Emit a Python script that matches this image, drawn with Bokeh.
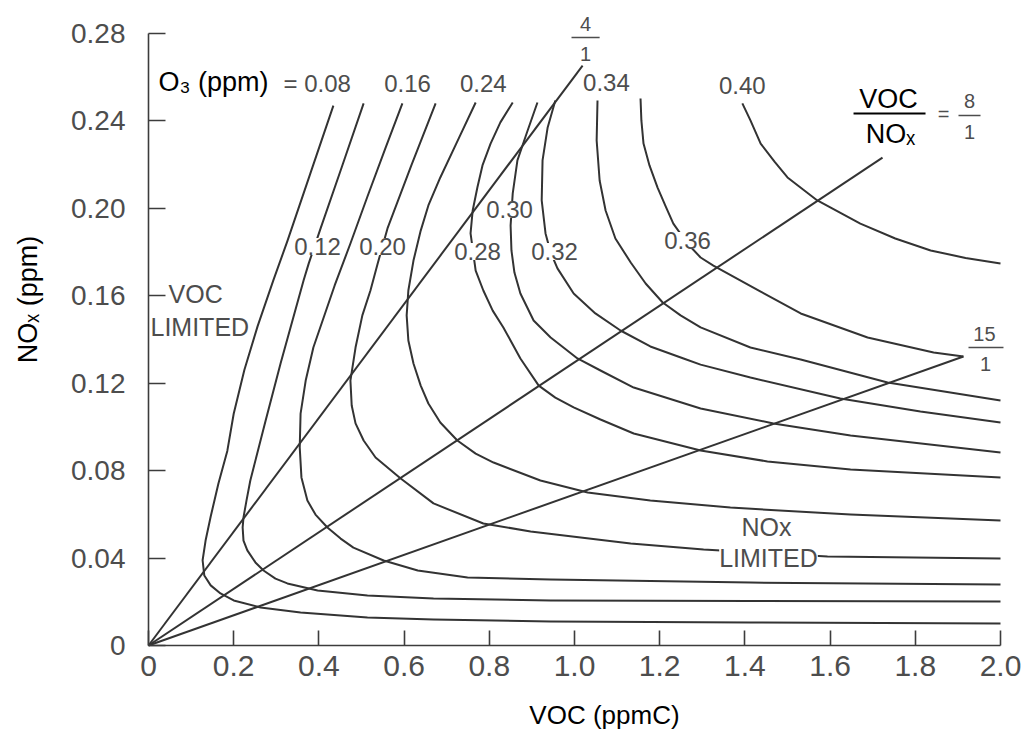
import math
from bokeh.plotting import figure
from bokeh.models import Range1d, FixedTicker, Label, Arrow
from bokeh.embed import file_html
from bokeh.resources import INLINE

# ---------------- data ----------------
x_ticks = [0, 0.2, 0.4, 0.6, 0.8, 1.0, 1.2, 1.4, 1.6, 1.8, 2.0]
x_tick_labels = ["0", "0.2", "0.4", "0.6", "0.8", "1.0", "1.2", "1.4", "1.6", "1.8", "2.0"]
y_ticks = [0, 0.04, 0.08, 0.12, 0.16, 0.20, 0.24, 0.28]
y_tick_labels = ["0", "0.04", "0.08", "0.12", "0.16", "0.20", "0.24", "0.28"]

# ozone isopleths: O3 (ppm) level -> VOC (ppmC) / NOx (ppm) points
voc_008 = [0.434, 0.380, 0.326, 0.293, 0.256, 0.225, 0.200, 0.185, 0.164, 0.146, 0.134, 0.127,
           0.131, 0.146, 0.169, 0.200, 0.263, 0.357, 0.514, 0.669, 0.944, 1.413, 2.0]
nox_008 = [0.247, 0.216, 0.185, 0.167, 0.146, 0.126, 0.106, 0.089, 0.074, 0.059, 0.048, 0.039,
           0.032, 0.0275, 0.0238, 0.0206, 0.0174, 0.0151, 0.0128, 0.0119, 0.0110, 0.0105, 0.0101]

voc_012 = [0.505, 0.455, 0.404, 0.376, 0.364, 0.310, 0.275, 0.239, 0.230, 0.223, 0.221, 0.223,
           0.232, 0.251, 0.270, 0.298, 0.326, 0.397, 0.514, 0.669, 0.944, 1.413, 2.0]
nox_012 = [0.248, 0.2196, 0.1908, 0.1747, 0.167, 0.129, 0.1029, 0.0755, 0.0663, 0.0586, 0.054, 0.048,
           0.0435, 0.038, 0.0343, 0.0306, 0.0284, 0.0252, 0.0229, 0.0215, 0.0206, 0.0204, 0.0201]

voc_016 = [0.596, 0.556, 0.514, 0.474, 0.437, 0.387, 0.369, 0.357, 0.355, 0.359, 0.373, 0.392,
           0.420, 0.451, 0.481, 0.552, 0.632, 0.749, 0.944, 1.413, 2.0]
nox_016 = [0.248, 0.2274, 0.2054, 0.1839, 0.1647, 0.1363, 0.1212, 0.1061, 0.0906, 0.0769, 0.0663, 0.0599,
           0.054, 0.0489, 0.0448, 0.0389, 0.0343, 0.0311, 0.0302, 0.0288, 0.0279]

voc_020 = [0.674, 0.617, 0.561, 0.538, 0.521, 0.502, 0.486, 0.474, 0.477, 0.486, 0.505, 0.533,
           0.592, 0.669, 0.786, 0.897, 1.132, 1.303, 1.594, 2.0]
nox_020 = [0.248, 0.2196, 0.1908, 0.1747, 0.1624, 0.151, 0.1363, 0.1212, 0.1098, 0.1016, 0.0938, 0.086,
           0.0764, 0.065, 0.0558, 0.0522, 0.0467, 0.0439, 0.0407, 0.0398]

voc_024 = [0.768, 0.728, 0.685, 0.657, 0.639, 0.622, 0.610, 0.606, 0.610, 0.622, 0.639, 0.657,
           0.685, 0.725, 0.768, 0.810, 0.920, 1.031, 1.178, 1.366, 1.648, 2.0]
nox_024 = [0.2484, 0.2319, 0.2141, 0.2013, 0.1898, 0.1761, 0.1624, 0.151, 0.1395, 0.129, 0.1189, 0.1107,
           0.102, 0.0938, 0.0878, 0.0837, 0.0755, 0.070, 0.0663, 0.0631, 0.0599, 0.0572]

voc_028 = [0.855, 0.826, 0.803, 0.784, 0.772, 0.761, 0.756, 0.768, 0.786, 0.808, 0.833, 0.873,
           0.916, 0.955, 0.998, 1.061, 1.139, 1.296, 1.453, 1.648, 2.0]
nox_028 = [0.2484, 0.2393, 0.2296, 0.2196, 0.2095, 0.199, 0.1885, 0.1715, 0.1624, 0.1532, 0.1455, 0.1313,
           0.1189, 0.1134, 0.1089, 0.1034, 0.097, 0.0892, 0.0842, 0.0805, 0.0769]

voc_030 = [0.913, 0.890, 0.866, 0.855, 0.850, 0.852, 0.859, 0.873, 0.904, 0.944, 1.007, 1.061,
           1.139, 1.296, 1.467, 1.648, 2.0]
nox_030 = [0.2484, 0.2356, 0.2219, 0.2068, 0.1921, 0.1807, 0.1706, 0.161, 0.1487, 0.1409, 0.1313, 0.1258,
           0.118, 0.1084, 0.1016, 0.0961, 0.0883]

voc_032 = [0.955, 0.937, 0.925, 0.923, 0.932, 0.944, 0.960, 0.998, 1.049, 1.108, 1.178, 1.256,
           1.296, 1.413, 1.624, 1.812, 2.0]
nox_032 = [0.2493, 0.237, 0.2219, 0.2036, 0.1885, 0.1798, 0.1725, 0.161, 0.1519, 0.1441, 0.1368, 0.1313,
           0.1285, 0.1226, 0.113, 0.107, 0.102]

voc_034 = [1.054, 1.052, 1.059, 1.073, 1.096, 1.132, 1.167, 1.207, 1.249, 1.296, 1.413, 1.531, 1.735, 2.0]
nox_034 = [0.2493, 0.231, 0.2127, 0.199, 0.1862, 0.1752, 0.1656, 0.1569, 0.151, 0.1455, 0.1363, 0.1308,
           0.1203, 0.1121]

voc_036 = [1.155, 1.157, 1.162, 1.176, 1.195, 1.214, 1.232, 1.265, 1.296, 1.326, 1.437, 1.531,
           1.688, 1.843, 1.913]
nox_036 = [0.2502, 0.2402, 0.2296, 0.2196, 0.2095, 0.2009, 0.193, 0.1839, 0.1775, 0.1738, 0.1619, 0.1519,
           0.1409, 0.134, 0.1322]

voc_040 = [1.394, 1.413, 1.437, 1.470, 1.500, 1.570, 1.671, 1.753, 1.836, 1.918, 2.0]
nox_040 = [0.248, 0.2402, 0.2296, 0.2212, 0.2141, 0.2036, 0.193, 0.1862, 0.1807, 0.1773, 0.1748]

o3_levels = ["0.08", "0.12", "0.16", "0.20", "0.24", "0.28", "0.30", "0.32", "0.34", "0.36", "0.40"]
isopleth_voc = [voc_008, voc_012, voc_016, voc_020, voc_024, voc_028, voc_030, voc_032, voc_034, voc_036, voc_040]
isopleth_nox = [nox_008, nox_012, nox_016, nox_020, nox_024, nox_028, nox_030, nox_032, nox_034, nox_036, nox_040]

# VOC/NOx ratio lines from the origin
ratio_num = ["4", "8", "15"]
ray_start_voc = [0.0, 0.0, 0.0]
ray_start_nox = [0.0, 0.0, 0.0]
ray_end_voc = [1.019, 1.723, 1.913]
ray_end_nox = [0.2653, 0.2232, 0.1322]

# ---------------- styling / layout ----------------
FONT = "Liberation Sans"
GRAY = "#4d4d4d"
LINE = "#333333"

W, H = 1025, 736                # canvas size
ORIGIN_X, ORIGIN_Y = 148, 645   # pixel position of (0, 0) on the canvas
PX_PER_VOC, PX_PER_NOX = 426.0, 2186.0

# the frame covers the whole canvas; the axes sit at the data origin
x_range = Range1d(-ORIGIN_X / PX_PER_VOC, (W - ORIGIN_X) / PX_PER_VOC)
y_range = Range1d(-(H - ORIGIN_Y) / PX_PER_NOX, ORIGIN_Y / PX_PER_NOX)

p = figure(
    output_backend="svg", toolbar_location=None, title=None,
    x_range=x_range, y_range=y_range,
    width=W, height=H, min_border=0,
    background_fill_color="white", border_fill_color="white",
)
p.outline_line_color = None
p.grid.visible = False

for ax, ticks, labels, fs, so in ((p.xaxis, x_ticks, x_tick_labels, "30px", 10),
                                  (p.yaxis, y_ticks, y_tick_labels, "28px", 23)):
    ax.fixed_location = 0
    ax.bounds = (ticks[0], ticks[-1])
    ax.ticker = FixedTicker(ticks=ticks)
    ax.major_label_overrides = dict(zip(ticks, labels))
    ax.major_label_text_font = FONT
    ax.major_label_text_font_size = fs
    ax.major_label_text_color = GRAY
    ax.major_label_standoff = so
    ax.axis_line_color = "#3c3c3c"
    ax.axis_line_width = 1.6
    ax.major_tick_line_color = "#3c3c3c"
    ax.major_tick_line_width = 1.6
    ax.major_tick_out = 0
    ax.minor_tick_line_color = None
p.xaxis.major_tick_in = 15
p.yaxis.major_tick_in = 17

# isopleths
for vx, ny in zip(isopleth_voc, isopleth_nox):
    p.line(vx, ny, line_color=LINE, line_width=2.0, line_join="round")

# ratio lines
p.segment(x0=ray_start_voc, y0=ray_start_nox, x1=ray_end_voc, y1=ray_end_nox,
          line_color=LINE, line_width=2.0)


def lab(x, y, text, size, color=GRAY, align="center", baseline="middle", bg=False, angle=0.0):
    kw = {}
    if bg:
        kw = dict(background_fill_color="white", background_fill_alpha=1.0)
    p.add_layout(Label(x=x, y=y, text=text, text_font=FONT, text_font_size=f"{size}px",
                       text_color=color, text_align=align, text_baseline=baseline,
                       angle=angle, **kw))


def bar(x0, x1, y, color=GRAY, width=1.5):
    p.add_layout(Arrow(end=None, start=None, x_start=x0, y_start=y, x_end=x1, y_end=y,
                       line_color=color, line_width=width))


# level labels above the curves
top_text = ["0.16", "0.24", "0.34", "0.40"]
top_x = [0.608, 0.786, 1.075, 1.394]
top_y = [0.2571, 0.2571, 0.2576, 0.2562]
for t, x, y in zip(top_text, top_x, top_y):
    lab(x, y, t, 24)
lab(0.0235, 0.2576, "O\u2083 (ppm)", 27, color="black", align="left")
lab(0.317, 0.2571, "= 0.08", 24, align="left")

# level labels within the curves
mid_text = ["0.12", "0.20", "0.30", "0.28", "0.32", "0.36"]
mid_x = [0.3967, 0.5493, 0.8474, 0.7723, 0.9531, 1.2653]
mid_y = [0.1825, 0.1825, 0.1995, 0.1802, 0.1802, 0.1853]
for t, x, y in zip(mid_text, mid_x, mid_y):
    lab(x, y, t, 24, bg=True)

# regime labels
lab(0.047, 0.1606, "VOC", 25, align="left")
lab(0.0047, 0.1459, "LIMITED", 25, align="left")
lab(1.4507, 0.0540, "NOx", 25)
lab(1.4554, 0.0398, "LIMITED", 25, bg=True)

# ratio labels (fractions)
lab(1.0258, 0.2841, ratio_num[0], 20)
bar(0.993, 1.059, 0.2781)
lab(1.0258, 0.2704, "1", 20)

lab(1.7371, 0.2502, "VOC", 27, color="black")
bar(1.655, 1.824, 0.2434, color="black", width=2.0)
lab(1.7418, 0.2338, "NO\u2093", 27, color="black")
lab(1.8662, 0.2430, "=", 20)
lab(1.9272, 0.2493, ratio_num[1], 20)
bar(1.9014, 1.9531, 0.2425)
lab(1.9272, 0.2347, "1", 20)

lab(1.9624, 0.1427, ratio_num[2], 20)
bar(1.9249, 2.007, 0.1363)
lab(1.9648, 0.1290, "1", 20)

# axis titles
lab(1.0704, -0.0316, "VOC (ppmC)", 26, color="black")
lab(-0.2817, 0.1583, "NO\u2093 (ppm)", 27, color="black", angle=math.pi / 2)

open("out.html", "w").write(file_html(p, INLINE, title="Ozone isopleths"))
